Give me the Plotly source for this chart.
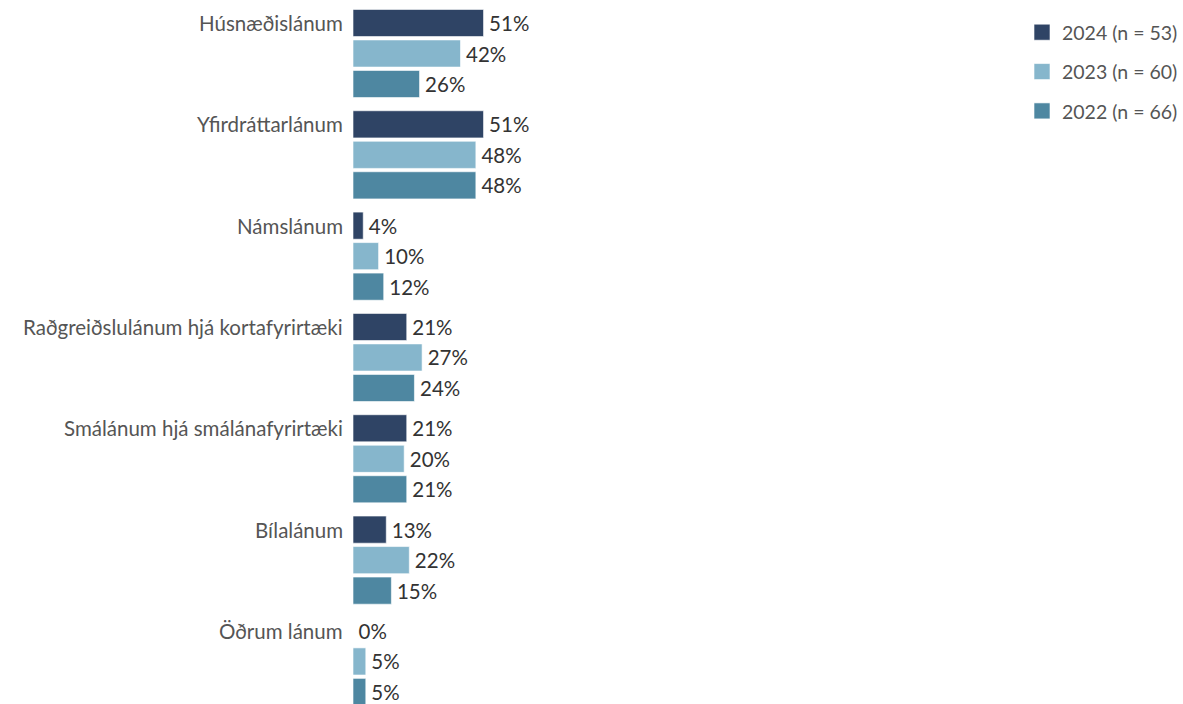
import plotly.graph_objects as go

categories = ["Húsnæðislánum", "Yfirdráttarlánum", "Námslánum",
              "Raðgreiðslulánum hjá kortafyrirtæki", "Smálánum hjá smálánafyrirtæki",
              "Bílalánum", "Öðrum lánum"]
series_names = ["2024 (n = 53)", "2023 (n = 60)", "2022 (n = 66)"]
v2024 = [51, 51, 4, 21, 21, 13, 0]
v2023 = [42, 48, 10, 27, 20, 22, 5]
v2022 = [26, 48, 12, 24, 21, 15, 5]
colors = ["#2F4465", "#86B6CC", "#4E87A1"]

FONT = "Lato"
FS = 20.5
fig = go.Figure()
for name, vals, col in zip(series_names, [v2024, v2023, v2022], colors):
    fig.add_trace(go.Bar(
        y=categories, x=vals, orientation="h", name=name,
        marker=dict(color=col, line=dict(color="rgba(255,255,255,0.6)", width=1)),
        texttemplate="\u2009%{x}%", textposition="outside", constraintext="none",
        textfont=dict(family=FONT, size=FS, color="#333333"),
        cliponaxis=False, showlegend=False, hoverinfo="skip",
    ))
    fig.add_trace(go.Scatter(
        x=[None], y=[None], mode="markers", name=name, legendgroup=name,
        marker=dict(symbol="square", size=20, color=col,
                    line=dict(color="rgba(255,255,255,0.6)", width=1)),
    ))

for c in categories:
    fig.add_annotation(x=0, xref="paper", y=c, yref="y", yshift=30.5,
                       xanchor="right", xshift=-8, text=c, showarrow=False,
                       font=dict(family=FONT, size=FS, color="#555555"))

fig.update_layout(
    width=1183, height=704,
    margin=dict(l=353, r=0, t=0, b=0),
    paper_bgcolor="white", plot_bgcolor="white",
    barmode="group", bargap=0.097, bargroupgap=0.11,
    font=dict(family=FONT, size=FS, color="#555555"),
    xaxis=dict(range=[0, 318], visible=False),
    yaxis=dict(range=[6.42, -0.528], showticklabels=False, showgrid=False,
               zeroline=False, ticks=""),
    legend=dict(x=0.822, xanchor="left", y=0.9815, yanchor="top",
                font=dict(family=FONT, size=19.5, color="#555555"),
                itemsizing="trace", tracegroupgap=11, bgcolor="rgba(0,0,0,0)"),
)
fig.write_html("out.html", post_script="document.body.style.margin='0';",
               config={"displayModeBar": False})
